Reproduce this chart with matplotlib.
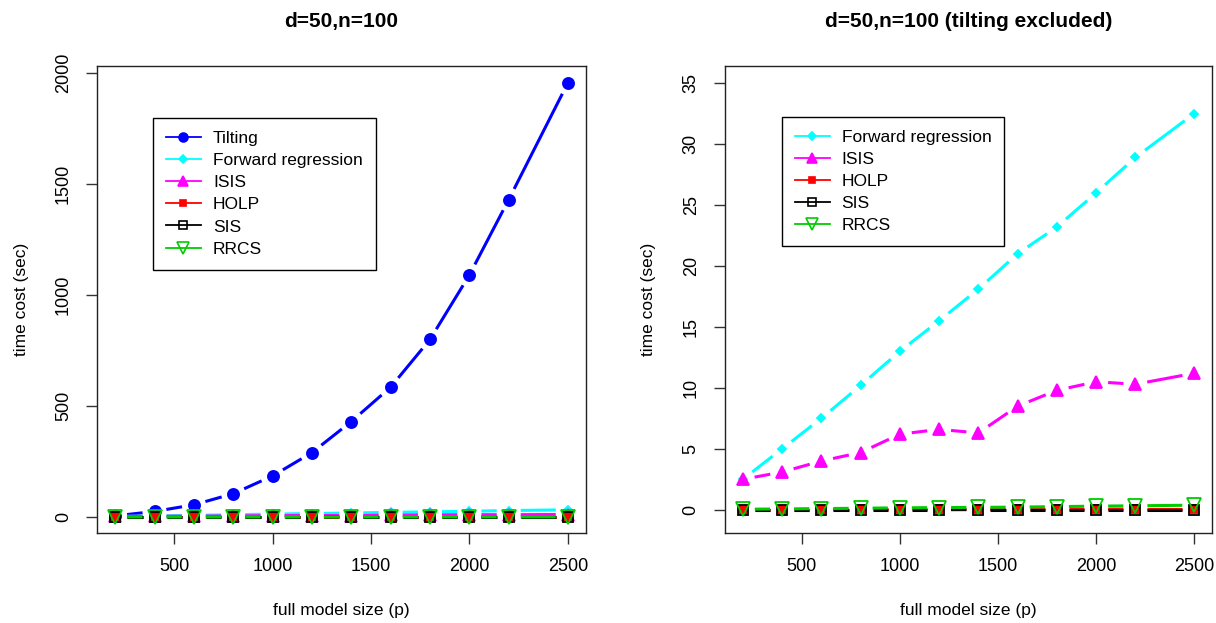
import numpy as np
import matplotlib
matplotlib.use('Agg')
from matplotlib import pyplot as plt
from matplotlib.lines import Line2D

plt.rcParams['font.family'] = ['Liberation Sans', 'DejaVu Sans']

# model sizes
p = [200, 400, 600, 800, 1000, 1200, 1400, 1600, 1800, 2000, 2200, 2500]

# time cost (sec)
tilting = [5, 25, 55, 105, 185, 290, 430, 585, 800, 1090, 1430, 1955]
forward = [2.5, 5.0, 7.5, 10.2, 13.0, 15.5, 18.1, 21.0, 23.2, 26.0, 28.9, 32.5]
isis = [2.5, 3.1, 4.0, 4.7, 6.2, 6.6, 6.3, 8.5, 9.8, 10.5, 10.3, 11.2]
holp = [0.02, 0.02, 0.02, 0.03, 0.03, 0.03, 0.03, 0.04, 0.04, 0.04, 0.05, 0.05]
sis = [0.01, 0.01, 0.01, 0.01, 0.01, 0.01, 0.02, 0.02, 0.02, 0.02, 0.02, 0.02]
rrcs = [0.05, 0.07, 0.10, 0.13, 0.16, 0.18, 0.20, 0.22, 0.26, 0.30, 0.33, 0.38]

# name, values, color, marker, markersize, filled
series = [
    ('Tilting', tilting, '#0000FF', 'o', 8, True),
    ('Forward regression', forward, '#00FFFF', 'D', 4.5, True),
    ('ISIS', isis, '#FF00FF', '^', 8.5, True),
    ('HOLP', holp, '#FF0000', 's', 6, True),
    ('SIS', sis, '#000000', 's', 7.5, False),
    ('RRCS', rrcs, '#00CC00', 'v', 10, False),
]

GAP = 12  # pixels left blank round each point (like R type="b")


def gapped_line(ax, xs, ys, col):
    pts = ax.transData.transform(np.column_stack([xs, ys]))
    inv = ax.transData.inverted()
    for a, b in zip(pts[:-1], pts[1:]):
        d = b - a
        L = np.hypot(*d)
        if L <= 2 * GAP:
            continue
        u = d / L
        seg = inv.transform(np.array([a + u * GAP, b - u * GAP]))
        ax.plot(seg[:, 0], seg[:, 1], color=col, lw=2.2, solid_capstyle='butt')


def draw(ax, items, ylim, yticks, title, leg_anchor):
    ax.set_xlim(108, 2592)
    ax.set_ylim(*ylim)
    handles = []
    for name, vals, col, mk, ms, filled in items:
        gapped_line(ax, p, vals, col)
        fc = col if filled else 'none'
        ax.plot(p, vals, linestyle='none', marker=mk, ms=ms, mfc=fc,
                mec=col, mew=1.3, clip_on=False)
        handles.append(Line2D([], [], color=col, lw=1.3, marker=mk,
                              ms=ms * 0.8, mfc=fc, mec=col, mew=1.2))
    ax.set_xlim(108, 2592)
    ax.set_ylim(*ylim)
    ax.set_xticks([500, 1000, 1500, 2000, 2500])
    ax.set_yticks(yticks)
    for lab in ax.get_yticklabels():
        lab.set_rotation(90)
        lab.set_va('center')
    ax.tick_params(axis='both', labelsize=13, length=8, width=1, pad=10,
                   color='#333333')
    ax.set_xlabel('full model size (p)', fontsize=12.5, labelpad=20)
    ax.set_ylabel('time cost (sec)', fontsize=12.5, labelpad=19)
    ax.set_title(title, fontsize=15, fontweight='bold', pad=28)
    for s in ax.spines.values():
        s.set_linewidth(1)
        s.set_color('#222222')
    leg = ax.legend(handles, [it[0] for it in items], loc='upper left',
                    bbox_to_anchor=leg_anchor, fontsize=12.5, frameon=True,
                    fancybox=False, edgecolor='black', framealpha=1,
                    borderaxespad=0, borderpad=0.75, handlelength=2.0,
                    handletextpad=0.7, labelspacing=0.4)
    leg.get_frame().set_linewidth(1)


fig = plt.figure(figsize=(12.16, 6.23), dpi=100)
ax1 = fig.add_axes([0.0798, 0.1445, 0.402, 0.7496])
ax2 = fig.add_axes([0.596, 0.1445, 0.401, 0.7496])

draw(ax1, series, (-72, 2032), [0, 500, 1000, 1500, 2000],
     'd=50,n=100', (0.1145, 0.8887))
draw(ax2, series[1:], (-1.9, 36.4), [0, 5, 10, 15, 20, 25, 30, 35],
     'd=50,n=100 (tilting excluded)', (0.117, 0.891))

fig.savefig('out.png', dpi=100)
